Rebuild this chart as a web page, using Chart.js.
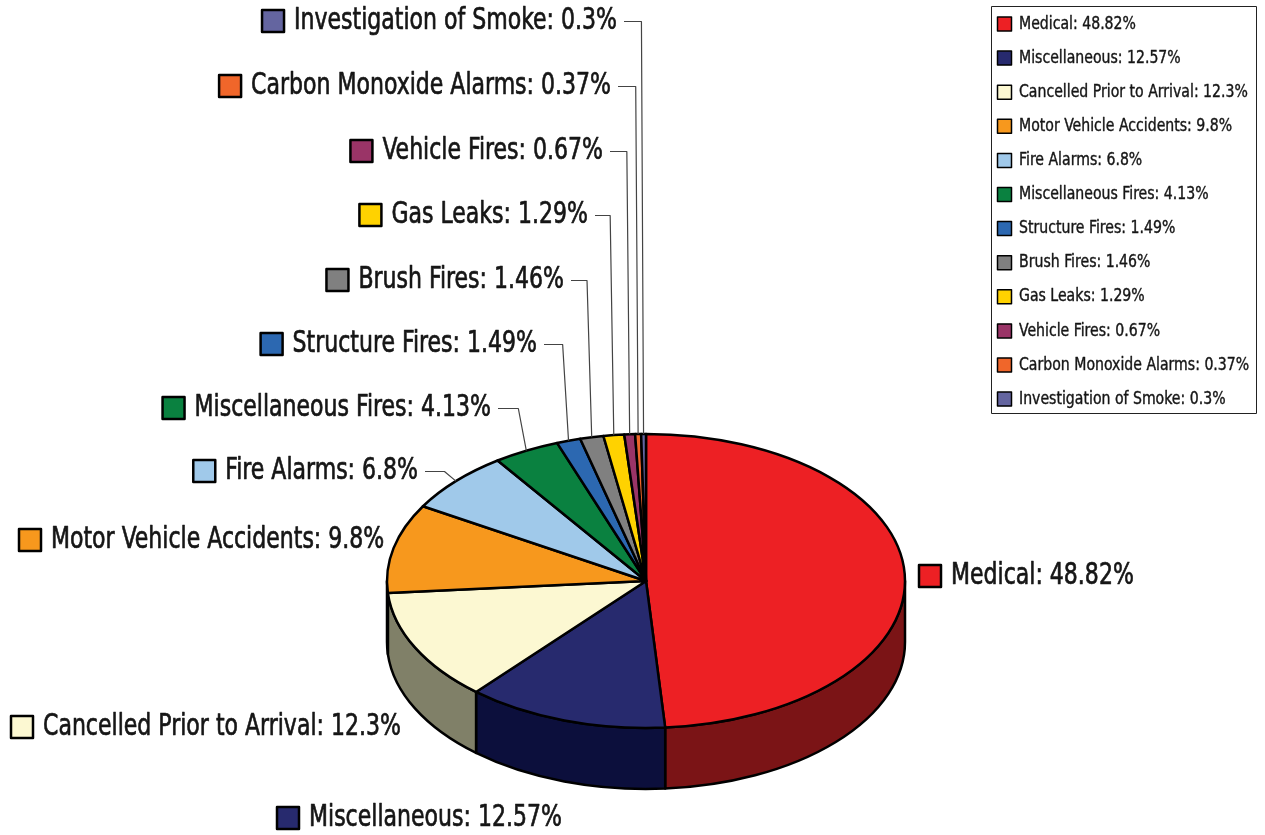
<!DOCTYPE html>
<html>
<head>
<meta charset="utf-8">
<script src="https://cdn.jsdelivr.net/npm/chart.js@4.4.1/dist/chart.umd.min.js"></script>
<style>
  html, body { margin: 0; padding: 0; background: #fff; }
  #wrap { width: 1265px; height: 835px; }
</style>
</head>
<body>
<div id="wrap"><canvas id="pie-chart" width="1265" height="835"></canvas></div>
<script>
const categories = [
  'Medical', 'Miscellaneous', 'Cancelled Prior to Arrival', 'Motor Vehicle Accidents',
  'Fire Alarms', 'Miscellaneous Fires', 'Structure Fires', 'Brush Fires',
  'Gas Leaks', 'Vehicle Fires', 'Carbon Monoxide Alarms', 'Investigation of Smoke'
];
const shares = [48.82, 12.57, 12.3, 9.8, 6.8, 4.13, 1.49, 1.46, 1.29, 0.67, 0.37, 0.3];

const topColors = ['#ed2024', '#272a6e', '#fcf8d2', '#f7981d', '#a0c9ea', '#0a8140',
                   '#2c68b1', '#808080', '#ffd200', '#9a3467', '#f0662a', '#6465a0'];
const sideColors = ['#7b1416', '#0c0f3c', '#808068', '#7f4d0e', '#516677', '#054120',
                    '#16345a', '#404040', '#806900', '#4d1a34', '#7a3315', '#323350'];

// where each callout sits: x is text start (left) or text end (right)
const calloutPos = [
  {x: 951, y: 576, align: 'left'},
  {x: 309, y: 818, align: 'left'},
  {x: 43,  y: 727, align: 'left'},
  {x: 51,  y: 540, align: 'left'},
  {x: 418, y: 471, align: 'right', leader: true},
  {x: 491, y: 408, align: 'right', leader: true},
  {x: 537, y: 344, align: 'right', leader: true},
  {x: 564, y: 280, align: 'right', leader: true},
  {x: 588, y: 215, align: 'right', leader: true},
  {x: 603, y: 151, align: 'right', leader: true},
  {x: 611, y: 86,  align: 'right', leader: true},
  {x: 617, y: 21,  align: 'right', leader: true}
];

const FONT = '"Liberation Sans Narrow", "DejaVu Sans Condensed", sans-serif';
const TILT = 0.5676;
const DEPTH = 61;

function squeezedText(ctx, text, x, y, size, squeeze, align, heavy) {
  ctx.save();
  ctx.font = size + 'px ' + FONT;
  const w = ctx.measureText(text).width * squeeze;
  const left = align === 'right' ? x - w : x;
  ctx.translate(left, y);
  ctx.scale(squeeze, 1);
  ctx.textAlign = 'left';
  ctx.textBaseline = 'middle';
  ctx.fillStyle = '#161616';
  ctx.fillText(text, 0, 0);
  if (heavy) {
    ctx.lineWidth = heavy;
    ctx.strokeStyle = '#161616';
    ctx.strokeText(text, 0, 0);
  }
  ctx.restore();
  return {left: left, right: left + w};
}

function keyBox(ctx, x, y, size, color, lw) {
  ctx.fillStyle = color;
  ctx.fillRect(x, y, size, size);
  ctx.lineWidth = lw;
  ctx.strokeStyle = '#000';
  ctx.strokeRect(x, y, size, size);
}

const pie3d = {
  id: 'pie3d',
  beforeDatasetsDraw() {
    return false;
  },
  afterDraw(chart) {
    const ctx = chart.ctx;
    const arcs = chart.getDatasetMeta(0).data;
    const cx = arcs[0].x, cy = arcs[0].y;
    const rx = arcs[0].outerRadius, ry = rx * TILT;

    ctx.save();
    ctx.lineJoin = 'round';
    ctx.lineWidth = 2.5;
    ctx.strokeStyle = '#000';

    // side walls (front half only)
    arcs.forEach((arc, i) => {
      const s = Math.max(arc.startAngle, 0);
      const e = Math.min(arc.endAngle, Math.PI);
      if (s >= e) return;
      ctx.beginPath();
      ctx.ellipse(cx, cy, rx, ry, 0, s, e, false);
      ctx.lineTo(cx + rx * Math.cos(e), cy + ry * Math.sin(e) + DEPTH);
      ctx.ellipse(cx, cy + DEPTH, rx, ry, 0, e, s, true);
      ctx.closePath();
      ctx.fillStyle = sideColors[i];
      ctx.fill();
      ctx.stroke();
    });

    // top faces
    arcs.forEach((arc, i) => {
      ctx.beginPath();
      ctx.moveTo(cx, cy);
      ctx.ellipse(cx, cy, rx, ry, 0, arc.startAngle, arc.endAngle, false);
      ctx.closePath();
      ctx.fillStyle = topColors[i];
      ctx.fill();
      ctx.stroke();
    });

    // callouts
    arcs.forEach((arc, i) => {
      const p = calloutPos[i];
      const text = chart.data.labels[i] + ': ' + chart.data.datasets[0].data[i] + '%';
      const span = squeezedText(ctx, text, p.x, p.y, 31, 0.79, p.align, 0.7);
      keyBox(ctx, span.left - 32, p.y - 11, 22, topColors[i], 2.5);
      if (p.leader) {
        const mid = (arc.startAngle + arc.endAngle) / 2;
        const ex = cx + rx * Math.cos(mid);
        const ey = cy + ry * Math.sin(mid);
        const elbow = ex - (2 + 0.05 * (cx - ex));
        ctx.beginPath();
        ctx.moveTo(span.right + 7, p.y + 0.5);
        ctx.lineTo(elbow, p.y + 0.5);
        ctx.lineTo(ex, ey);
        ctx.lineWidth = 1.2;
        ctx.strokeStyle = '#444';
        ctx.stroke();
      }
    });

    // legend box
    ctx.lineWidth = 1;
    ctx.strokeStyle = '#222';
    ctx.strokeRect(991.5, 6.5, 265, 407);
    chart.data.labels.forEach((label, i) => {
      const y = 24 + 34.1 * i;
      keyBox(ctx, 997.5, y - 7, 14, topColors[i], 1.5);
      squeezedText(ctx, label + ': ' + chart.data.datasets[0].data[i] + '%', 1019, y, 18, 0.87, 'left', 0.4);
    });
    ctx.restore();
  }
};

new Chart(document.querySelector('#pie-chart').getContext('2d'), {
  type: 'pie',
  data: {
    labels: categories,
    datasets: [{
      data: shares,
      backgroundColor: topColors,
      borderWidth: 0,
      hoverOffset: 0
    }]
  },
  options: {
    responsive: false,
    animation: false,
    radius: 259,
    layout: { padding: { left: 387, right: 360, top: 327, bottom: 0 } },
    plugins: { legend: { display: false }, tooltip: { enabled: false } }
  },
  plugins: [pie3d]
});
</script>
</body>
</html>
